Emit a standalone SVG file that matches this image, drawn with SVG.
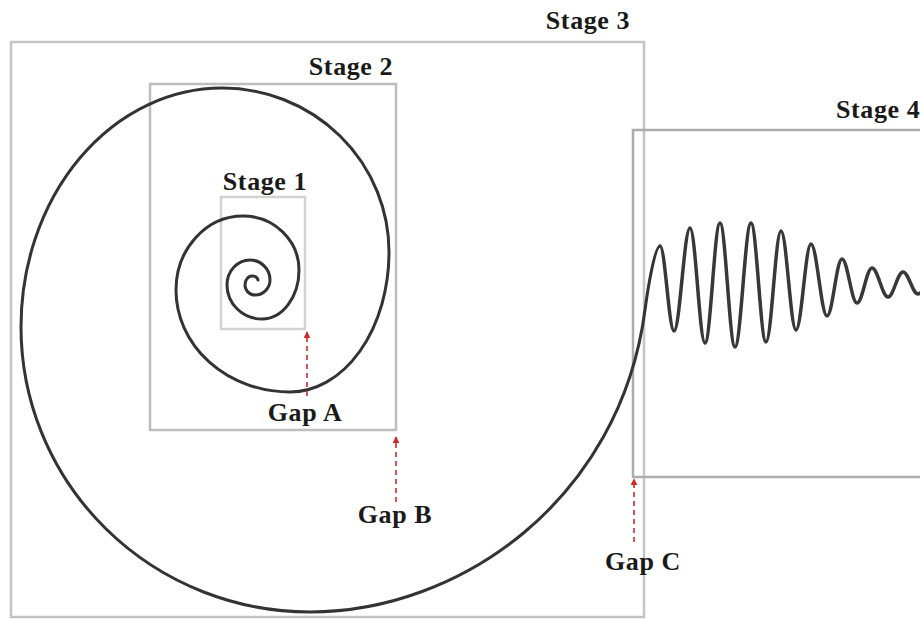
<svg xmlns="http://www.w3.org/2000/svg" width="920" height="619" viewBox="0 0 920 619">
<style>
.box{fill:none;stroke-width:2.5}
.lbl{font-family:"Liberation Serif","Times New Roman",serif;font-weight:bold;font-size:26px;letter-spacing:0.6px;fill:#1a1a1a}
.curve{fill:none;stroke:#333;stroke-width:3;stroke-linecap:round;stroke-linejoin:round}
.gap{fill:none;stroke:#d02828;stroke-width:1.6;stroke-dasharray:5 4}
</style>
<defs>
<marker id="ah" viewBox="0 0 10 10" refX="9" refY="5" markerWidth="7" markerHeight="7" orient="auto" markerUnits="userSpaceOnUse">
<path d="M0,0 L10,5 L0,10 Z" fill="#d02828"/>
</marker>
</defs>
<rect width="920" height="619" fill="#fff"/>
<g id="stage3"><rect class="box" stroke="#c4c4c4" x="11" y="42" width="633" height="575"/><text class="lbl" x="588" y="29" text-anchor="middle">Stage 3</text></g>
<g id="stage2"><rect class="box" stroke="#bdbdbd" x="150" y="84" width="246" height="346"/><text class="lbl" x="351" y="75" text-anchor="middle">Stage 2</text></g>
<g id="stage1"><rect class="box" stroke="#d2d2d2" x="221" y="197" width="84" height="132"/><text class="lbl" x="265" y="190" text-anchor="middle">Stage 1</text></g>
<g id="stage4"><rect class="box" stroke="#acacac" x="633" y="130" width="320" height="347"/><text class="lbl" x="836" y="118">Stage 4</text></g>
<g id="spiral">
<path class="curve" d="M258,280 C257.5,277 255,276 252,276 A7 9 0 0 0 245,285 A10 10 0 0 0 255,295 A15 15 0 0 0 270,280 A20 20 0 0 0 250,260 A23 25 0 0 0 227,285 A35 34 0 0 0 262,319 A37 49 0 0 0 299,270 A56 54 0 0 0 243,216 A67 74 0 0 0 176,290 A114 102 0 0 0 290,392 A99 140 0 0 0 389,252 A167 164 0 0 0 222,88 A201 239 0 0 0 21,327 A289 285 0 0 0 310,612 C460,612 620,500 645,310 C648,287 655,246 660,246"/>
<path class="curve" style="stroke-width:3.5;stroke:#383838" d="M660,246 C665.1,246 668.9,331 674,331 C679.8,331 684.2,228 690,228 C695.5,228 699.5,343 705,343 C710.5,343 714.5,223 720,223 C725.5,223 729.5,347 735,347 C740.8,347 745.2,223 751,223 C756.5,223 760.5,342 766,342 C771.5,342 775.5,231 781,231 C786.5,231 790.5,330 796,330 C801.5,330 805.5,244 811,244 C816.8,244 821.2,316 827,316 C832.5,316 836.5,259 842,259 C847.5,259 851.5,303 857,303 C862.5,303 866.5,268 872,268 C877.8,268 882.2,297 888,297 C893.5,297 897.5,272 903,272 C908.5,272 912.5,294 918,294 C923.5,294 927.5,276 933,276"/>
</g>
<g id="connectors">
<line class="gap" x1="307" y1="396" x2="307" y2="332" marker-end="url(#ah)"/>
<line class="gap" x1="396" y1="502" x2="396" y2="437" marker-end="url(#ah)"/>
<line class="gap" x1="634" y1="542" x2="634" y2="479" marker-end="url(#ah)"/>
</g>
<g id="gapA"><text class="lbl" x="305" y="421" text-anchor="middle">Gap A</text></g>
<g id="gapB"><text class="lbl" x="395" y="523" text-anchor="middle">Gap B</text></g>
<g id="gapC"><text class="lbl" x="643" y="570" text-anchor="middle">Gap C</text></g>
</svg>
